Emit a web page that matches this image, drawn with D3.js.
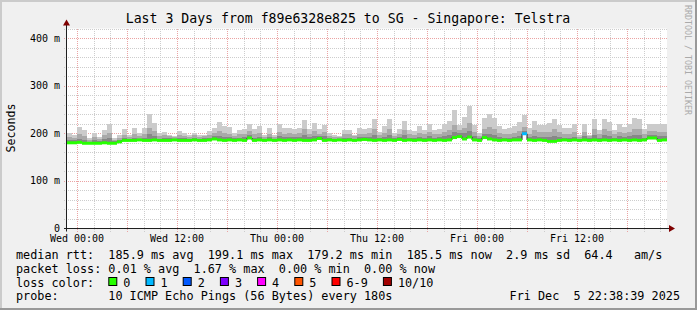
<!DOCTYPE html>
<html>
<head>
<meta charset="utf-8">
<script src="https://cdn.jsdelivr.net/npm/d3@7"></script>
<style>
  body { margin: 0; background: #fff; }
  svg text { font-family: "DejaVu Sans Mono", monospace; white-space: pre; }
</style>
</head>
<body>
<svg id="chart" width="697" height="310"></svg>
<script>
// smoke data, one value per 36 min bin (ms)
const median = [
  180,180,181,179,179,179,179,180,179,179,
  182,185,185,185,186,185,185,186,185,185,
  185,186,185,185,185,186,185,185,186,188,
  186,185,186,185,186,185,190,185,186,185,
  186,185,186,185,186,185,186,185,185,186,
  189,185,186,185,186,185,186,185,186,187,
  186,185,186,185,186,185,187,185,186,185,
  186,185,186,185,186,185,186,191,193,188,
  192,186,185,191,188,186,185,186,185,186,
  186,199,186,185,186,185,183,183,185,186,
  185,186,185,186,185,186,185,186,185,186,
  185,186,185,186,185,186,190,190,185,186
];
const smokeMax = [
  201,197,213,206,190,201,192,206,219,190,
  197,208,197,212,201,212,240,222,201,203,
  196,194,204,201,197,201,196,197,204,212,
  224,215,213,201,207,209,219,210,215,196,
  211,197,219,212,212,210,212,228,210,222,
  208,218,201,196,194,207,207,197,211,210,
  212,230,203,215,230,201,210,226,207,204,
  215,207,220,207,209,219,226,249,218,234,
  258,218,201,232,240,232,215,210,211,215,
  223,238,212,226,218,218,222,230,218,211,
  211,220,196,219,197,230,207,230,224,207,
  220,213,220,233,230,209,220,220,220,220
];
const smokeMid = [
  192,190,198,195,186,193,188,196,200,186,
  190,196,192,198,194,198,212,204,194,196,
  194,192,197,195,193,196,192,194,197,201,
  205,200,199,195,198,199,204,198,201,193,
  199,193,203,199,200,199,200,208,198,205,
  199,203,195,193,192,198,198,194,199,199,
  200,208,196,201,209,195,199,206,198,197,
  201,198,203,198,199,203,207,218,206,212,
  222,203,195,210,213,210,201,198,199,201,
  205,214,199,206,202,202,203,208,202,199,
  199,203,193,203,194,209,198,209,205,198,
  203,200,203,210,208,199,205,205,203,203
];
const smokeDark = [
  186,185,188,186,182,186,184,187,190,183,
  186,190,189,191,189,191,198,195,189,190,
  190,189,191,190,189,190,189,190,191,194,
  194,192,192,190,191,192,196,191,193,189,
  192,189,194,192,192,192,192,197,192,195,
  194,194,190,189,189,191,191,189,192,192,
  193,197,190,193,197,190,193,196,191,191,
  193,191,194,191,192,194,196,203,200,200,
  205,194,190,199,198,197,192,191,191,192,
  195,205,192,195,193,193,192,195,193,191,
  191,193,189,194,190,196,191,196,195,191,
  194,192,194,197,196,191,196,196,194,194
];
// bins with lost pings (bin index, pings lost of 10)
const lossEvents = [[91, 1]];

const lossLabels = ["0", "1", "2", "3", "4", "5", "6-9", "10/10"];
const lossColors = ["#26ff00", "#00b8ff", "#0059ff", "#7e00ff", "#ff00ff", "#ff5500", "#ff0000", "#a10000"];
const yTicks = [0, 100, 200, 300, 400];

const title = "Last 3 Days from f89e6328e825 to SG - Singapore: Telstra";
const legendRtt = "median rtt:  185.9 ms avg  199.1 ms max  179.2 ms min  185.5 ms now  2.9 ms sd  64.4   am/s";
const legendLoss = "packet loss: 0.01 % avg  1.67 % max  0.00 % min  0.00 % now";
const probeText = "10 ICMP Echo Pings (56 Bytes) every 180s";
const stamp = "Fri Dec  5 22:38:39 2025";

const W = 697, H = 310;
const plot = { left: 67, right: 667, top: 28.5, bottom: 228.5 };
const start = new Date(2025, 11, 2, 22, 48);
const end = new Date(2025, 11, 5, 22, 48);
const binMs = 36 * 60 * 1000;

const svg = d3.select("#chart");
const x = d3.scaleTime().domain([start, end]).range([plot.left, plot.right]);
const y = d3.scaleLinear().domain([0, 420]).range([plot.bottom, plot.top]);

// background, shaded frame, canvas
svg.append("rect").attr("width", W).attr("height", H).attr("fill", "#f0f0f0");
svg.append("rect").attr("x", 0).attr("y", 0).attr("width", W).attr("height", 2).attr("fill", "#cbcbcb");
svg.append("rect").attr("x", 0).attr("y", 0).attr("width", 2).attr("height", H).attr("fill", "#cbcbcb");
svg.append("rect").attr("x", 0).attr("y", H - 2).attr("width", W).attr("height", 2).attr("fill", "#999");
svg.append("rect").attr("x", W - 2).attr("y", 0).attr("width", 2).attr("height", H).attr("fill", "#999");
svg.append("rect").attr("x", plot.left).attr("y", plot.top)
    .attr("width", plot.right - plot.left).attr("height", plot.bottom - plot.top).attr("fill", "#fff");

// grid
const grid = svg.append("g").attr("stroke-dasharray", "1,1").attr("shape-rendering", "crispEdges");
const minorT = d3.timeHour.every(2).range(start, end);
const minorV = d3.range(20, 421, 20);
for (const t of minorT) {
    const major = t.getHours() % 6 === 0;
    grid.append("line").attr("x1", Math.round(x(t)) + 0.5).attr("x2", Math.round(x(t)) + 0.5)
        .attr("y1", plot.top).attr("y2", plot.bottom + 3)
        .attr("stroke", major ? "#eba3a3" : "#cdcdcd");
}
for (const v of minorV) {
    const major = v % 100 === 0;
    grid.append("line").attr("x1", plot.left - 3).attr("x2", plot.right)
        .attr("y1", Math.round(y(v)) + 0.5).attr("y2", Math.round(y(v)) + 0.5)
        .attr("stroke", major ? "#eba3a3" : "#cdcdcd");
}

// smoke layers, outer to inner
const bins = median.map((m, i) => ({ i, t0: new Date(+start + i * binMs), t1: new Date(+start + (i + 1) * binMs) }));
const layers = [[smokeMax, "#cbcbcb"], [smokeMid, "#a9a9a9"], [smokeDark, "#878787"]];
for (const [arr, col] of layers) {
    svg.append("g").selectAll("rect").data(bins).join("rect")
        .attr("x", d => x(d.t0)).attr("width", d => x(d.t1) - x(d.t0))
        .attr("y", d => y(arr[d.i])).attr("height", d => y(median[d.i]) - y(arr[d.i]))
        .attr("fill", col).attr("shape-rendering", "crispEdges");
}

// median step line, then loss coloured band
const step = d3.line().curve(d3.curveStepAfter).x(d => x(d.t0)).y(d => y(median[d.i]));
svg.append("path").attr("d", step(bins.concat([{ i: 119, t0: end }])))
    .attr("fill", "none").attr("stroke", "#202020").attr("stroke-width", 1);
const lossOf = i => { const e = lossEvents.find(e => e[0] === i); return e ? e[1] : 0; };
const colorOf = n => n === 0 ? lossColors[0] : n < 6 ? lossColors[n] : n < 10 ? lossColors[6] : lossColors[7];
svg.append("g").selectAll("rect").data(bins).join("rect")
    .attr("x", d => x(d.t0)).attr("width", d => x(d.t1) - x(d.t0))
    .attr("y", d => y(median[d.i]) - 1.5).attr("height", 3)
    .attr("fill", d => colorOf(lossOf(d.i)));

// axes
const axisCol = "#202020";
svg.append("line").attr("x1", plot.left - 3).attr("x2", plot.right + 4)
    .attr("y1", plot.bottom).attr("y2", plot.bottom).attr("stroke", axisCol);
svg.append("line").attr("x1", plot.left - 0.5).attr("x2", plot.left - 0.5)
    .attr("y1", plot.bottom + 3).attr("y2", plot.top - 4).attr("stroke", axisCol);
svg.append("path").attr("d", `M${plot.left - 4},${plot.top - 3}L${plot.left + 3},${plot.top - 3}L${plot.left - 0.5},${plot.top - 9}Z`)
    .attr("fill", "#7f0000");
svg.append("path").attr("d", `M${plot.right + 2},${plot.bottom - 3.5}L${plot.right + 2},${plot.bottom + 3.5}L${plot.right + 8},${plot.bottom}Z`)
    .attr("fill", "#7f0000");

// tick labels
svg.append("g").selectAll("text").data(d3.timeHour.every(12).range(start, end)).join("text")
    .attr("x", d => x(d)).attr("y", 241.5).attr("text-anchor", "middle")
    .attr("font-size", "10px").text(d3.timeFormat("%a %H:%M"));
svg.append("g").selectAll("text").data(yTicks).join("text")
    .attr("x", 60).attr("y", d => y(d) + 3.5).attr("text-anchor", "end")
    .attr("font-size", "10px").text(d => d === 0 ? "0" : d + " m");

// titles
svg.append("text").attr("x", 348).attr("y", 23).attr("text-anchor", "middle")
    .attr("font-size", "13.2px").text(title);
svg.append("text").attr("transform", "translate(15,128) rotate(-90)").attr("text-anchor", "middle")
    .attr("font-size", "11.6px").text("Seconds");
svg.append("text").attr("transform", "translate(685,5) rotate(90)")
    .attr("font-size", "8.3px").attr("fill", "#aaa").text("RRDTOOL / TOBI OETIKER");

// legend
const lg = svg.append("g").attr("font-size", "11.8px");
lg.append("text").attr("x", 16).attr("y", 258.5).text(legendRtt);
lg.append("text").attr("x", 16).attr("y", 272.5).text(legendLoss);
lg.append("text").attr("x", 16).attr("y", 286.5).text("loss color:");
lg.append("text").attr("x", 16).attr("y", 300).text("probe:");
lg.append("text").attr("x", 108.3).attr("y", 300).text(probeText);
lg.append("text").attr("x", 680).attr("y", 300).attr("text-anchor", "end").text(stamp);
let lx = 108.3;
lossLabels.forEach((lab, k) => {
    lg.append("rect").attr("x", lx + 0.5).attr("y", 277.5).attr("width", 8).attr("height", 8)
        .attr("fill", lossColors[k]).attr("stroke", "#000");
    lg.append("text").attr("x", lx + 15).attr("y", 286.5).text(lab);
    lx += 15 + (lab.length + 2) * 7.1 + 0.9;
});
</script>
</body>
</html>
